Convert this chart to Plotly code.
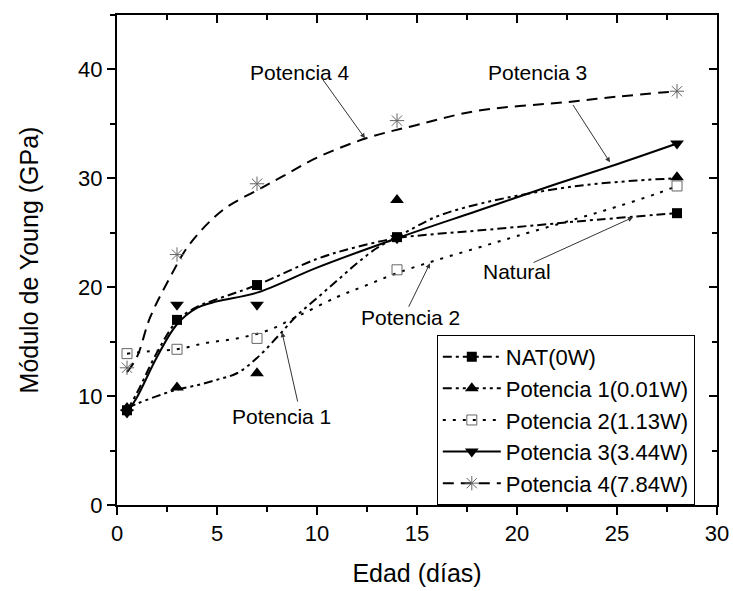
import plotly.graph_objects as go

# ---- measured data points ----
days = [0.5, 3, 7, 14, 28]
nat = [8.7, 17.0, 20.2, 24.6, 26.8]
p1 = [8.9, 10.8, 12.1, 28.0, 30.1]
p2 = [13.9, 14.3, 15.3, 21.6, 29.3]
p3 = [8.5, 18.4, 18.4, 24.5, 33.2]
p4 = [12.6, 23.0, 29.5, 35.3, 38.0]

# ---- fitted curves ----
nat_cx = [0.5, 1, 2, 3, 4, 5, 7, 10, 12, 14, 16, 18, 21, 24, 28]
nat_cy = [8.7, 10.3, 14.0, 16.9, 18.2, 18.9, 20.2, 22.6, 23.7, 24.5, 24.9, 25.2, 25.7, 26.2, 26.8]
p1_cx = [0.5, 1, 2, 3, 4, 5, 6, 7, 8, 9, 10, 11, 12, 13, 14, 16, 18, 20, 23, 26, 28]
p1_cy = [8.9, 9.3, 10.0, 10.6, 11.0, 11.5, 12.1, 13.5, 15.4, 17.4, 19.0, 20.6, 22.2, 23.6, 24.6, 26.5, 27.6, 28.4, 29.3, 29.8, 30.0]
p2_cx = [0.5, 1.5, 3, 4.5, 6, 7.5, 9, 11, 12.5, 14, 16, 18, 20, 23, 25, 27, 28]
p2_cy = [13.9, 14.1, 14.3, 14.9, 15.3, 16.0, 17.3, 19.1, 20.2, 21.3, 22.5, 23.6, 24.7, 26.3, 27.4, 28.6, 29.3]
p3_cx = [0.5, 1, 2, 3, 4, 5, 7, 10, 14, 18, 22, 25, 28]
p3_cy = [8.5, 9.9, 13.6, 16.6, 18.1, 18.7, 19.5, 21.8, 24.5, 27.0, 29.5, 31.3, 33.2]
p4_cx = [0.5, 1, 1.65, 2.65, 3.65, 5.3, 7, 8.3, 10, 12.5, 15, 18, 22.5, 25, 28]
p4_cy = [12.2, 13.6, 17.2, 20.9, 24.0, 27.1, 28.9, 30.2, 31.9, 33.7, 34.9, 36.2, 37.0, 37.5, 38.0]

names = ["NAT(0W)", "Potencia 1(0.01W)", "Potencia 2(1.13W)", "Potencia 3(3.44W)", "Potencia 4(7.84W)"]

x_ticks = [0, 5, 10, 15, 20, 25, 30]
y_ticks = [0, 10, 20, 30, 40]

FONT = "Arial, Liberation Sans, sans-serif"
GRAY = "#666666"

series = [
    dict(name=names[0], y=nat, cx=nat_cx, cy=nat_cy, dash="9px,4px,3px,4px", width=2,
         marker=dict(symbol="square", size=10, color="black")),
    dict(name=names[1], y=p1, cx=p1_cx, cy=p1_cy, dash="9px,4px,3px,4px,3px,4px", width=2,
         marker=dict(symbol="triangle-up", size=12, color="black")),
    dict(name=names[2], y=p2, cx=p2_cx, cy=p2_cy, dash="3px,7px", width=2,
         marker=dict(symbol="square-open", size=10, color=GRAY, line=dict(width=1, color=GRAY))),
    dict(name=names[3], y=p3, cx=p3_cx, cy=p3_cy, dash="solid", width=2,
         marker=dict(symbol="triangle-down", size=12, color="black")),
    dict(name=names[4], y=p4, cx=p4_cx, cy=p4_cy, dash="11px,7px", width=2,
         marker=dict(symbol="asterisk-open", size=12, color=GRAY, line=dict(width=1, color=GRAY))),
]

fig = go.Figure()
for s in series:
    fig.add_trace(go.Scatter(x=s["cx"], y=s["cy"], mode="lines", line_shape="spline",
                             line=dict(color="black", width=s["width"], dash=s["dash"]),
                             showlegend=False, hoverinfo="skip"))
for s in series:
    fig.add_trace(go.Scatter(x=days, y=s["y"], mode="markers", marker=s["marker"],
                             showlegend=False, name=s["name"]))
for s in series:
    fig.add_trace(go.Scatter(x=[None], y=[None], mode="lines+markers", name=s["name"],
                             line=dict(color="black", width=s["width"], dash=s["dash"]),
                             marker=s["marker"], showlegend=True))

# mirror axes (inside ticks on top and right)
fig.add_trace(go.Scatter(x=[None], y=[None], xaxis="x2", yaxis="y2", showlegend=False, hoverinfo="skip"))

axis_common = dict(showline=True, linewidth=2, linecolor="black", showgrid=False, zeroline=False,
                   tickcolor="black", tickwidth=2, ticklen=8, automargin=False)

fig.update_layout(
    width=733, height=591,
    margin=dict(l=117, r=16, t=15, b=86, autoexpand=False),
    paper_bgcolor="white", plot_bgcolor="white",
    font=dict(family=FONT, color="black", size=22),
    xaxis=dict(range=[0, 30], tickvals=x_ticks, ticks="outside",
               minor=dict(dtick=2.5, ticklen=5, ticks="outside", tickcolor="black", tickwidth=2),
               title=dict(text="Edad (días)", font=dict(size=25), standoff=19),
               tickfont=dict(size=22), **axis_common),
    yaxis=dict(range=[0, 45], tickvals=y_ticks, ticks="outside",
               minor=dict(dtick=5, ticklen=5, ticks="outside", tickcolor="black", tickwidth=2),
               title=dict(text="Módulo de Young (GPa)", font=dict(size=25), standoff=32),
               tickfont=dict(size=22), **axis_common),
    xaxis2=dict(range=[0, 30], overlaying="x", side="top", anchor="y2", tickvals=x_ticks,
                ticks="inside", showticklabels=False,
                minor=dict(dtick=2.5, ticklen=5, ticks="inside", tickcolor="black", tickwidth=2),
                **axis_common),
    yaxis2=dict(range=[0, 45], overlaying="y", side="right", anchor="x2", tickvals=y_ticks,
                ticks="inside", showticklabels=False,
                minor=dict(dtick=5, ticklen=5, ticks="inside", tickcolor="black", tickwidth=2),
                **axis_common),
    legend=dict(x=0.533, y=0.347, xanchor="left", yanchor="top", bgcolor="white",
                bordercolor="black", borderwidth=1, font=dict(size=22), tracegroupgap=0,
                itemwidth=58),
)

# labels and arrows
labels = [
    ("Potencia 4", 9.15, 39.7),
    ("Potencia 3", 21.0, 39.7),
    ("Natural", 20.0, 21.4),
    ("Potencia 2", 14.65, 17.2),
    ("Potencia 1", 8.2, 8.1),
]
for t, x, y in labels:
    fig.add_annotation(x=x, y=y, xref="x", yref="y", text=t, showarrow=False,
                       font=dict(size=21, family=FONT, color="black"))

arrows = [
    ((10.25, 39.17), (12.4, 33.67)),
    ((22.75, 36.88), (24.65, 31.47)),
    ((20.75, 22.2), (25.8, 26.42)),
    ((14.55, 18.07), (15.65, 22.2)),
    ((9.05, 9.36), (8.25, 15.87)),
]
for (tx, ty), (hx, hy) in arrows:
    fig.add_annotation(x=hx, y=hy, xref="x", yref="y", ax=tx, ay=ty, axref="x", ayref="y",
                       text="", showarrow=True, arrowhead=2, arrowsize=1, arrowwidth=1,
                       arrowcolor="#333333", standoff=0, startstandoff=0)

fig.write_html("out.html")
